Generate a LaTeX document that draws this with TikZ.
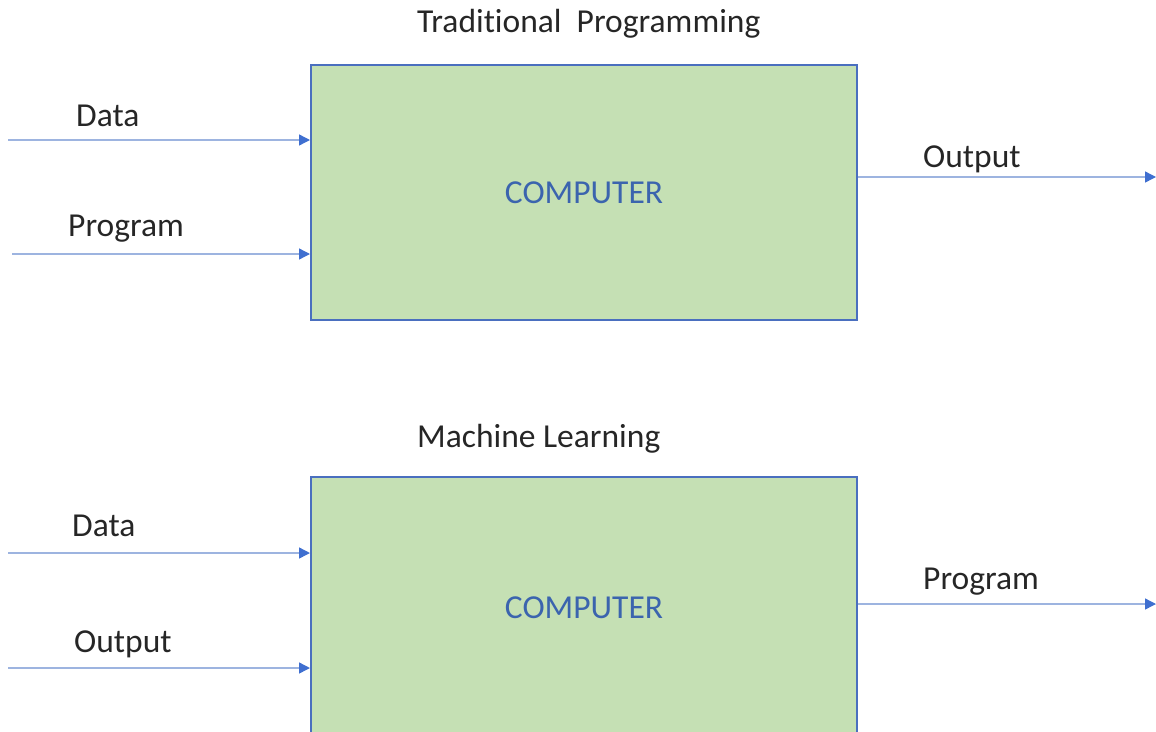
\documentclass[tikz,border=0pt]{standalone}
\usepackage{fontspec}
\setmainfont{Carlito}[Ligatures={NoCommon}]
\usetikzlibrary{arrows.meta}
\definecolor{boxfill}{HTML}{C5E0B4}
\definecolor{boxline}{HTML}{4A6FBF}
\definecolor{wire}{HTML}{9DB4E0}
\definecolor{tip}{HTML}{3F6FD0}
\definecolor{cpu}{HTML}{3B64AE}
\tikzset{
  unit/.style={draw=boxline, line width=2pt, fill=boxfill, minimum width=546pt,
    minimum height=255pt, inner sep=0pt, text=cpu, font=\fontsize{33.5}{40}\selectfont},
  lbl/.style={anchor=base west, inner sep=0pt, font=\fontsize{33.5}{40}\selectfont, text=black!85},
  flow/.style={draw=wire, line width=1.4pt,
    -{Triangle[length=11pt,width=11pt,color=tip]}},
}
\begin{document}
\begin{tikzpicture}[x=1pt,y=-1pt]
  \useasboundingbox (0,0) rectangle (1156,731);
  \clip (0,0) rectangle (1156,731);

  % Traditional programming
  \node[lbl] (t1) at (417,32) {Traditional\ \ Programming};
  \node[unit] (box1) at (584,192.5) {COMPUTER};
  \coordinate (in1a) at (8,140);
  \coordinate (in1b) at (12,254);
  \coordinate (out1) at (1156,177);
  \draw[flow] (in1a) -- (in1a -| box1.west);
  \draw[flow] (in1b) -- (in1b -| box1.west);
  \draw[flow] (out1 -| box1.east) -- (out1);
  \node[lbl] (l1a) at (76,126) {Data};
  \node[lbl] (l1b) at (68,236) {Program};
  \node[lbl] (l1c) at (923,167) {Output};

  % Machine learning (box runs past the lower edge)
  \node[lbl] (t2) at (417,447) {Machine Learning};
  \node[unit, minimum height=262pt] (box2) at (584,608) {COMPUTER};
  \coordinate (in2a) at (8,553);
  \coordinate (in2b) at (8,668);
  \coordinate (out2) at (1156,604);
  \draw[flow] (in2a) -- (in2a -| box2.west);
  \draw[flow] (in2b) -- (in2b -| box2.west);
  \draw[flow] (out2 -| box2.east) -- (out2);
  \node[lbl] (l2a) at (72,536) {Data};
  \node[lbl] (l2b) at (74,652) {Output};
  \node[lbl] (l2c) at (923,589) {Program};
\end{tikzpicture}
\end{document}
